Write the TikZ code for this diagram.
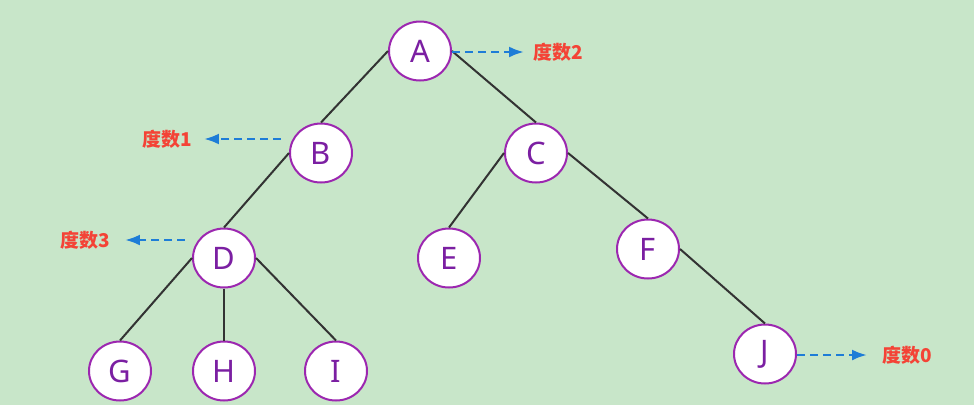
\documentclass[tikz,border=0pt]{standalone}
\usepackage{fontspec}
\setmainfont{Noto Sans}
\newfontfamily\cjk{Noto Sans CJK SC}
\usetikzlibrary{shapes.geometric,arrows.meta}
\definecolor{bggreen}{RGB}{200,230,201}
\definecolor{nodepurple}{RGB}{156,39,176}
\definecolor{textpurple}{RGB}{123,31,162}
\definecolor{edgegray}{RGB}{51,51,51}
\definecolor{degblue}{RGB}{30,125,215}
\definecolor{degred}{RGB}{244,67,54}

\begin{document}
\begin{tikzpicture}[x=1pt, y=-1pt,
    treenode/.style={ellipse, draw=nodepurple, line width=2pt, fill=white, text=textpurple,
        minimum width=62pt, minimum height=59pt, inner sep=0pt, font=\fontsize{31}{31}\selectfont},
    treeedge/.style={draw=edgegray, line width=2pt},
    deglabel/.style={text=degred, inner sep=0pt, font=\cjk\bfseries\fontsize{19}{19}\selectfont},
    degarrow/.style={draw=degblue, line width=2.6pt, dash pattern=on 8pt off 5pt,
        -{Latex[length=15pt,width=11pt]}}]
    \fill[bggreen] (0,0) rectangle (974,405);
    \useasboundingbox (0,0) rectangle (974,405);
    % tree nodes
    \node[treenode] (A) at (420,51) {A};
    \node[treenode] (B) at (321,153) {B};
    \node[treenode] (C) at (536,153) {C};
    \node[treenode] (D) at (224,258) {D};
    \node[treenode] (E) at (449,258) {E};
    \node[treenode] (F) at (648,249) {F};
    \node[treenode] (G) at (120,371) {G};
    \node[treenode] (H) at (224,371) {H};
    \node[treenode] (I) at (336,371) {I};
    \node[treenode] (J) at (765,354) {J};
    % edges
    \draw[treeedge] (A.west) -- (B.north);
    \draw[treeedge] (A.east) -- (C.north);
    \draw[treeedge] (B.west) -- (D.north);
    \draw[treeedge] (C.west) -- (E.north);
    \draw[treeedge] (C.east) -- (F.north);
    \draw[treeedge] (D.west) -- (G.north);
    \draw[treeedge] (D.south) -- (H.north);
    \draw[treeedge] (D.east) -- (I.north);
    \draw[treeedge] (F.east) -- (J.north);
    % degree labels
    \node[deglabel] (deg2) at (558,52) {度数2};
    \node[deglabel] (deg1) at (167,139) {度数1};
    \node[deglabel] (deg3) at (85,240) {度数3};
    \node[deglabel] (deg0) at (907,355) {度数0};
    \draw[degarrow, shorten >=9pt] (A.east |- deg2.west) -- (deg2.west);
    \draw[degarrow, shorten <=8pt, shorten >=12pt] (B.west |- deg1.east) -- (deg1.east);
    \draw[degarrow, shorten <=7pt, shorten >=15pt] (D.west |- deg3.east) -- (deg3.east);
    \draw[degarrow, shorten >=15pt] (J.east |- deg0.west) -- (deg0.west);
\end{tikzpicture}
\end{document}
